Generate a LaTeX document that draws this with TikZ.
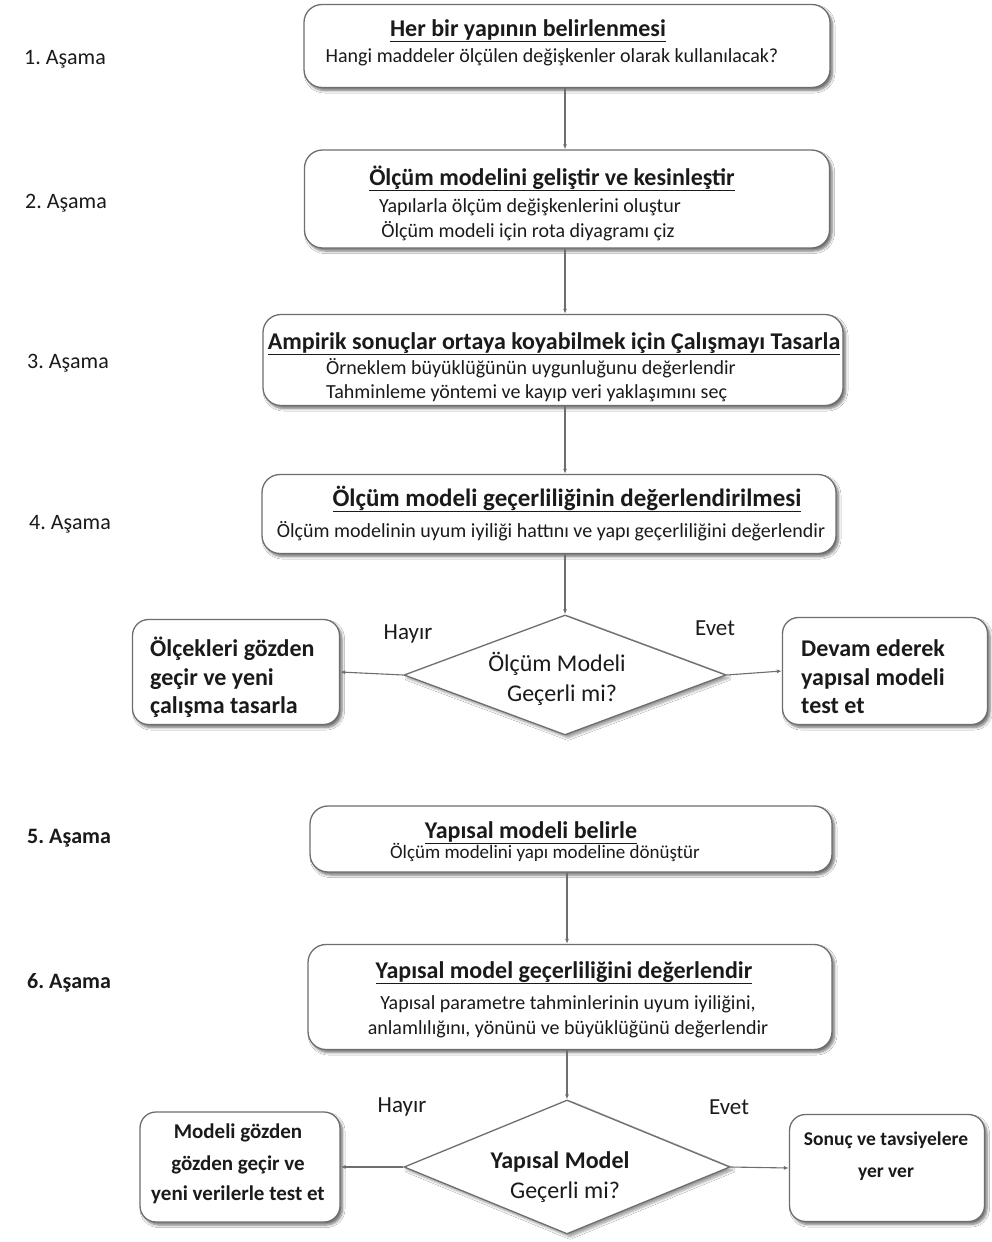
\documentclass[tikz,border=0pt]{standalone}
\usepackage{fontspec}
\setmainfont{Carlito}
\usetikzlibrary{shapes.geometric,shadows.blur,arrows.meta}
\definecolor{edge}{HTML}{6E6E6E}
\definecolor{ink}{HTML}{1A1A1A}
\frenchspacing
\begin{document}
\begin{tikzpicture}[x=1pt,y=-1pt,
  soft/.style={blur shadow={shadow xshift=2.5pt, shadow yshift=-3pt, shadow blur steps=6,
      shadow blur radius=2.5pt, shadow opacity=55}},
  box/.style={draw=edge, line width=1.3pt, rounded corners=18pt, fill=white, soft,
    inner sep=0pt},
  sidebox/.style={box, rounded corners=16pt},
  choice/.style={draw=edge, line width=1.3pt, diamond, fill=white, inner sep=0pt,
    blur shadow={shadow xshift=3pt, shadow yshift=-3pt, shadow blur steps=6,
      shadow blur radius=2.5pt, shadow opacity=40}},
  link/.style={draw=edge, line width=1.1pt, -{Latex[length=5pt,width=4pt]}},
  txt/.style={anchor=base, inner sep=0pt, text=ink},
  ltxt/.style={txt, anchor=base west},
  head/.style={txt, font=\fontsize{24}{28}\selectfont\bfseries},
  body/.style={txt, font=\fontsize{20}{25}\selectfont},
  side/.style={ltxt, font=\fontsize{24}{28}\selectfont\bfseries},
  small/.style={txt, font=\fontsize{21}{25}\selectfont\bfseries},
  ask/.style={txt, font=\fontsize{24}{28}\selectfont},
  stage/.style={ltxt, font=\fontsize{22}{26}\selectfont},
  tag/.style={text=ink, font=\fontsize{23}{26}\selectfont}]
\useasboundingbox (0,0) rectangle (992,1242);
\fill[white] (0,0) rectangle (992,1242);

% stage labels
\node[stage] (s1) at (24,64.5) {1. Aşama};
\node[stage] (s2) at (25,208.5) {2. Aşama};
\node[stage] (s3) at (27,368.5) {3. Aşama};
\node[stage] (s4) at (29,529.5) {4. Aşama};
\node[stage, font=\fontsize{22}{26}\selectfont\bfseries] (s5) at (27,843.5) {5. Aşama};
\node[stage, font=\fontsize{22}{26}\selectfont\bfseries] (s6) at (27,988.5) {6. Aşama};

% box outlines
\node[box, minimum width=526pt, minimum height=83pt] (b1) at (567,46) {};
\node[box, minimum width=525pt, minimum height=98pt] (b2) at (567,199) {};
\node[box, minimum width=580pt, minimum height=91pt] (b3) at (553,360) {};
\node[box, minimum width=574pt, minimum height=79pt] (b4) at (549,514) {};
\node[choice, minimum width=322pt, minimum height=120pt] (d1) at (565,675) {};
\node[sidebox, minimum width=207pt, minimum height=105pt] (n1) at (236,672) {};
\node[sidebox, minimum width=205pt, minimum height=107pt] (y1) at (885,671) {};
\node[box, minimum width=522pt, minimum height=66pt] (b5) at (571,839) {};
\node[box, minimum width=524pt, minimum height=105pt] (b6) at (570,997) {};
\node[choice, minimum width=326pt, minimum height=134pt] (d2) at (567,1167) {};
\node[sidebox, minimum width=200pt, minimum height=110pt] (n2) at (240,1167) {};
\node[sidebox, minimum width=195pt, minimum height=107pt] (y2) at (887,1168) {};

% step 1
\node[head] (b1h) at (528,36) {\underline{Her bir yapının belirlenmesi}};
\node[body] (b1a) at (552,62) {Hangi maddeler ölçülen değişkenler olarak kullanılacak?};
% step 2
\node[head] (b2h) at (552,185) {\underline{Ölçüm modelini geliştir ve kesinleştir}};
\node[body] (b2a) at (530,212) {Yapılarla ölçüm değişkenlerini oluştur};
\node[body] (b2b) at (528,237) {Ölçüm modeli için rota diyagramı çiz};
% step 3
\node[head] (b3h) at (554,349) {\underline{Ampirik sonuçlar ortaya koyabilmek için Çalışmayı Tasarla}};
\node[body, anchor=base west] (b3a) at (326,374) {Örneklem büyüklüğünün uygunluğunu değerlendir};
\node[body, anchor=base west] (b3b) at (326,398) {Tahminleme yöntemi ve kayıp veri yaklaşımını seç};
% step 4
\node[head, font=\fontsize{25}{28}\selectfont\bfseries] (b4h) at (567,506) {\underline{Ölçüm modeli geçerliliğinin değerlendirilmesi}};
\node[body] (b4a) at (551,537) {Ölçüm modelinin uyum iyiliği hattını ve yapı geçerliliğini değerlendir};

% first decision
\node[ask] (d1a) at (557,671) {Ölçüm Modeli};
\node[ask] (d1b) at (562,701) {Geçerli mi?};
\node[side] (n1a) at (150,656) {Ölçekleri gözden};
\node[side] (n1b) at (150,685) {geçir ve yeni};
\node[side] (n1c) at (150,713) {çalışma tasarla};
\node[side] (y1a) at (801,656) {Devam ederek};
\node[side] (y1b) at (801,685) {yapısal modeli};
\node[side] (y1c) at (801,713) {test et};

% step 5
\node[head] (b5h) at (531,838) {\underline{Yapısal modeli belirle}};
\node[body, font=\fontsize{19}{22}\selectfont] (b5a) at (545,858.5) {Ölçüm modelini yapı modeline dönüştür};
% step 6
\node[head] (b6h) at (564,978) {\underline{Yapısal model geçerliliğini değerlendir}};
\node[body] (b6a) at (568,1009) {Yapısal parametre tahminlerinin uyum iyiliğini,};
\node[body] (b6b) at (568,1034) {anlamlılığını, yönünü ve büyüklüğünü değerlendir};

% second decision
\node[ask, font=\fontsize{24}{28}\selectfont\bfseries] (d2a) at (560,1168) {Yapısal Model};
\node[ask] (d2b) at (565,1198) {Geçerli mi?};
\node[small] (n2a) at (238,1138) {Modeli gözden};
\node[small] (n2b) at (238,1170) {gözden geçir ve};
\node[small] (n2c) at (238,1200) {yeni verilerle test et};
\node[small, font=\fontsize{19.5}{24}\selectfont\bfseries] (y2a) at (886,1145) {Sonuç ve tavsiyelere};
\node[small, font=\fontsize{19.5}{24}\selectfont\bfseries] (y2b) at (886,1177) {yer ver};

% connectors
\draw[link] (b1.south -| d1.north) -- (b2.north -| d1.north);
\draw[link] (b2.south -| d1.north) -- (b3.north -| d1.north);
\draw[link] (b3.south -| d1.north) -- (b4.north -| d1.north);
\draw[link] (b4.south -| d1.north) -- (d1.north);
\draw[link] (d1.west) -- (n1.east);
\draw[link] (d1.east) -- (y1.west);
\draw[link] (b5.south -| d2.north) -- (b6.north -| d2.north);
\draw[link] (b6.south -| d2.north) -- (d2.north);
\draw[link] (d2.west) -- (n2.east);
\draw[link] (d2.east) -- (y2.west);

% branch labels
\node[tag] (h1) at (408,634) {Hayır};
\node[tag] (e1) at (715,628) {Evet};
\node[tag] (h2) at (402,1107) {Hayır};
\node[tag] (e2) at (729,1107) {Evet};
\end{tikzpicture}
\end{document}
